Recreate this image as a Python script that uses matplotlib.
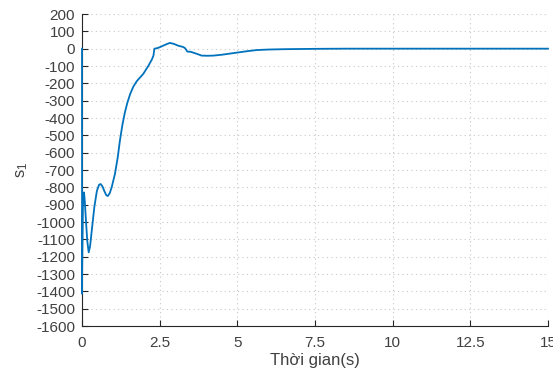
import matplotlib.pyplot as plt

plt.rcParams['font.family'] = ['Liberation Sans', 'DejaVu Sans']

# time (s) and sliding surface s1
t = [0.0, 0.002, 0.004, 0.03, 0.064, 0.09, 0.13, 0.17, 0.215, 0.26, 0.32,
     0.40, 0.48, 0.55, 0.60, 0.66, 0.72, 0.78, 0.83, 0.89, 0.955, 1.06,
     1.15, 1.22, 1.30, 1.38, 1.46, 1.55, 1.65, 1.76, 1.97, 2.14, 2.25,
     2.30, 2.33, 2.40, 2.50, 2.62, 2.75, 2.83, 2.95, 3.10, 3.25, 3.31,
     3.35, 3.39, 3.50, 3.58, 3.70, 3.85, 4.05, 4.23, 4.50, 4.98, 5.30,
     5.62, 6.00, 6.50, 7.00, 7.50, 8.50, 10.0, 12.5, 15.0]
s1 = [0, -1414, -1300, -900, -829, -880, -1000, -1110, -1175, -1140, -1040,
      -910, -820, -785, -781, -795, -822, -845, -850, -835, -800, -723,
      -627, -531, -440, -368, -312, -262, -220, -188, -146, -98, -62,
      -40, 0, 2, 8, 18, 28, 33, 28, 17, 10, 4,
      -5, -17, -18, -23, -30, -40, -41, -40, -35, -23, -15,
      -8, -5, -3, -2, -1, 0, 0, 0, 0]

x_ticks = [0, 2.5, 5, 7.5, 10, 12.5, 15]
x_labels = ['0', '2.5', '5', '7.5', '10', '12.5', '15']
y_ticks = list(range(-1600, 201, 100))

fig = plt.figure(figsize=(5.53, 3.74), dpi=100)
ax = fig.add_axes([82 / 553, 48 / 374, 466 / 553, 312 / 374])

# line drawn above the spines so the initial drop at t=0 stays visible
ax.plot(t, s1, color='#0072BD', lw=1.3, zorder=3, clip_on=False)

ax.set_xlim(0, 15)
ax.set_ylim(-1600, 200)
ax.set_xticks(x_ticks)
ax.set_xticklabels(x_labels)
ax.set_yticks(y_ticks)
ax.set_yticklabels([str(v) for v in y_ticks])

ax.grid(True, linestyle=(0, (1, 3)), color='#c8c8c8', linewidth=0.8)
ax.spines['top'].set_visible(False)
ax.spines['right'].set_visible(False)
for s in ('left', 'bottom'):
    ax.spines[s].set_color('#262626')
    ax.spines[s].set_linewidth(0.8)
ax.tick_params(colors='#262626', labelsize=11, direction='in', length=4,
               width=0.8, pad=5)
ax.tick_params(axis='x', pad=7)
for lab in ax.get_xticklabels() + ax.get_yticklabels():
    lab.set_color('#404040')
    lab.set_clip_on(False)

ax.set_xlabel('Thời gian(s)', fontsize=12, color='#404040', labelpad=2)
ax.set_ylabel('$\\mathregular{s_1}$', fontsize=12, color='#404040', labelpad=4)

fig.savefig('out.png', dpi=100)
